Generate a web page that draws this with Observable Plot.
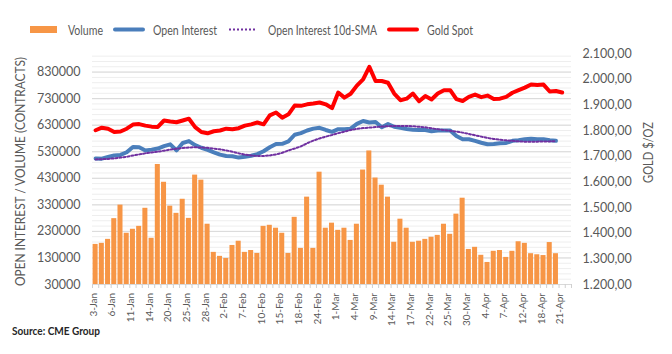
<!DOCTYPE html>
<html><head><meta charset="utf-8">
<script src="https://cdn.jsdelivr.net/npm/d3@7"></script>
<script src="https://cdn.jsdelivr.net/npm/@observablehq/plot@0.6"></script>
<style>
html,body{margin:0;padding:0;background:#fff;}
#wrap{position:relative;width:672px;height:354px;overflow:hidden;background:#fff;}
#wrap svg{position:absolute;left:0;top:0;}
</style></head>
<body><div id="wrap"></div>
<script>
// ---- data ----
const categories = ["3-Jan","4-Jan","5-Jan","6-Jan","7-Jan","10-Jan","11-Jan","12-Jan","13-Jan","14-Jan","18-Jan","19-Jan","20-Jan","21-Jan","24-Jan","25-Jan","26-Jan","27-Jan","28-Jan","31-Jan",
"1-Feb","2-Feb","3-Feb","4-Feb","7-Feb","8-Feb","9-Feb","10-Feb","11-Feb","14-Feb","15-Feb","16-Feb","17-Feb","18-Feb","22-Feb","23-Feb","24-Feb","25-Feb","28-Feb",
"1-Mar","2-Mar","3-Mar","4-Mar","7-Mar","8-Mar","9-Mar","10-Mar","11-Mar","14-Mar","15-Mar","16-Mar","17-Mar","18-Mar","21-Mar","22-Mar","23-Mar","24-Mar","25-Mar","28-Mar","29-Mar","30-Mar","31-Mar",
"1-Apr","4-Apr","5-Apr","6-Apr","7-Apr","8-Apr","11-Apr","12-Apr","13-Apr","14-Apr","18-Apr","19-Apr","20-Apr","21-Apr","22-Apr"];
const xTickLabels = ["3-Jan","6-Jan","11-Jan","14-Jan","20-Jan","25-Jan","28-Jan","2-Feb","7-Feb","10-Feb","15-Feb","18-Feb","24-Feb","1-Mar","4-Mar","9-Mar","14-Mar","17-Mar","22-Mar","25-Mar","30-Mar","4-Apr","7-Apr","12-Apr","18-Apr","21-Apr"];
const volume = [181000,185000,200000,278000,329000,223000,238000,249000,317000,204000,
482000,415000,325000,298000,351000,279000,442000,423000,257000,151000,
136000,128000,177000,193000,151000,158000,147000,249000,253000,242000,
223000,147000,283000,166000,359000,166000,453000,242000,261000,234000,
242000,196000,257000,461000,533000,431000,404000,359000,189000,276000,
242000,189000,193000,200000,208000,215000,257000,219000,295000,355000,
162000,170000,140000,113000,155000,158000,132000,155000,191000,185000,
146000,142000,139000,188000,146000];
const openInterest = [505000,504000,510000,516000,518000,528000,548000,547000,535000,538000,
542000,551000,558000,535000,563000,570000,555000,545000,537000,528000,
519000,514000,513000,508000,511000,515000,521000,532000,547000,559000,
560000,569000,594000,600000,610000,617000,620000,612000,605000,615000,
615000,617000,635000,646000,640000,642000,622000,634000,624000,620000,
616000,613000,612000,612000,607000,610000,610000,610000,589000,577000,
577000,571000,564000,558000,559000,562000,563000,571000,573000,577000,
579000,577000,577000,573000,571000];
const oiSMA = [501000,502000,503000,505000,508000,511000,516000,520000,524000,527000,
530000,534000,538000,541000,544000,546000,547000,546000,545000,542000,
539000,535000,530000,524000,519000,516000,514000,514000,516000,520000,
526000,535000,542000,550000,562000,572000,580000,587000,593000,600000,
606000,612000,616000,619000,621000,623000,625000,626000,627000,627000,
627000,626000,624000,622000,618000,615000,612000,609000,606000,602000,
597000,592000,587000,582000,578000,575000,573000,571000,569000,568000,
568000,568000,569000,569000,570000];
const goldSpot = [1801,1811,1807,1794,1796,1807,1823,1825,1819,1815,
1814,1839,1835,1832,1839,1846,1813,1794,1789,1797,
1800,1807,1805,1809,1819,1824,1831,1824,1859,1870,
1850,1863,1897,1896,1902,1905,1909,1902,1887,1948,
1928,1943,1975,1999,2048,1993,1993,1986,1944,1918,
1924,1944,1914,1934,1921,1944,1957,1957,1922,1915,
1931,1940,1930,1936,1923,1924,1931,1947,1957,1967,
1979,1977,1979,1952,1954,1948];
const leftTicks = [30000,130000,230000,330000,430000,530000,630000,730000,830000];
const leftMax = 900000;
const goldTicks = [1200,1300,1400,1500,1600,1700,1800,1900,2000,2100];

// ---- build ----
const yMin = leftTicks[0];
const goldToLeft = d3.scaleLinear().domain([goldTicks[0], goldTicks[goldTicks.length-1]]).range([yMin, leftMax]);
const volRows = volume.map((v,i)=>({date:categories[i], v}));
const oiRows = openInterest.map((v,i)=>({date:categories[i], v}));
const smaRows = oiSMA.map((v,i)=>({date:categories[i], v}));
const goldRows = goldSpot.map((g,i)=>({date:categories[i], v:goldToLeft(g)}));
const minorGrid = d3.range(yMin, leftMax, 20000);
const fmtGold = g => { const s = String(Math.round(g)); return s.slice(0,-3)+"."+s.slice(-3)+",00"; };

const W=672, H=354, mL=92, mR=101, mT=53, mB=70;
const bw = (W-mL-mR)/categories.length;
const frameH = H-mT-mB;
const font = "Lato, 'Open Sans', sans-serif";

const chart = Plot.plot({
  width: W, height: H,
  marginTop: mT, marginBottom: mB, marginLeft: mL, marginRight: mR,
  style: {fontFamily: font, fontSize: "12px", color: "#595959", background: "transparent", overflow: "visible"},
  x: {type: "band", domain: categories, padding: 0, round: false, axis: null},
  y: {domain: [yMin, leftMax], axis: null},
  marks: [
    Plot.ruleY(minorGrid, {stroke: "#eeeeee", strokeWidth: 1}),
    Plot.ruleY(leftTicks, {stroke: "#d9d9d9", strokeWidth: 1}),
    Plot.barY(volRows, {x: "date", y1: () => yMin, y2: "v", fill: "#f79646", insetLeft: 0.6, insetRight: 0.6}),
    Plot.line(oiRows, {x: "date", y: "v", stroke: "#4a7ebb", strokeWidth: 4, strokeLinejoin: "round", strokeLinecap: "round"}),
    Plot.line(smaRows, {x: "date", y: "v", stroke: "#7030a0", strokeWidth: 2, strokeDasharray: "2,2"}),
    Plot.line(goldRows, {x: "date", y: "v", stroke: "#ff0000", strokeWidth: 4, strokeLinejoin: "round", strokeLinecap: "round"}),
    Plot.ruleX(categories, {x: d => d, dx: -bw/2, insetTop: frameH, insetBottom: -4, stroke: "#d0d0d0"}),
    Plot.ruleX([categories[categories.length-1]], {x: d => d, dx: bw/2, insetTop: frameH, insetBottom: -4, stroke: "#d0d0d0"}),
    Plot.text(leftTicks, {y: d => d, text: d => String(d), frameAnchor: "left", dx: -12, textAnchor: "end", fontSize: 12.5, fill: "#595959"}),
    Plot.text(goldTicks, {y: d => goldToLeft(d), text: d => fmtGold(d), frameAnchor: "right", dx: 11, textAnchor: "start", fontSize: 12.5, fill: "#595959"}),
    Plot.text(xTickLabels, {x: d => d, text: d => d, frameAnchor: "bottom", rotate: -90, textAnchor: "end", dy: 8.5, dx: 1, fontSize: 10, fill: "#595959"})
  ]
});
document.getElementById("wrap").appendChild(chart);

// overlay: legend, axis titles, source
const ov = d3.select("#wrap").append("svg").attr("width", W).attr("height", H)
  .style("font-family", font).style("pointer-events","none");
const lg = ov.append("g").attr("fill", "#595959").style("font-size", "12.5px");
lg.append("rect").attr("x", 30).attr("y", 26).attr("width", 27).attr("height", 7).attr("fill", "#f79646");
lg.append("text").attr("x", 68).attr("y", 30).attr("dominant-baseline","central").attr("textLength", 35).attr("lengthAdjust","spacingAndGlyphs").text("Volume");
lg.append("line").attr("x1", 115).attr("x2", 143).attr("y1", 29.5).attr("y2", 29.5).attr("stroke", "#4a7ebb").attr("stroke-width", 4).attr("stroke-linecap","round");
lg.append("text").attr("x", 153).attr("y", 30).attr("dominant-baseline","central").attr("textLength", 64).attr("lengthAdjust","spacingAndGlyphs").text("Open Interest");
lg.append("line").attr("x1", 229).attr("x2", 256).attr("y1", 29.5).attr("y2", 29.5).attr("stroke", "#7030a0").attr("stroke-width", 2).attr("stroke-dasharray","2,2");
lg.append("text").attr("x", 268).attr("y", 30).attr("dominant-baseline","central").attr("textLength", 109).attr("lengthAdjust","spacingAndGlyphs").text("Open Interest 10d-SMA");
lg.append("line").attr("x1", 389).attr("x2", 417).attr("y1", 29.5).attr("y2", 29.5).attr("stroke", "#ff0000").attr("stroke-width", 4).attr("stroke-linecap","round");
lg.append("text").attr("x", 427).attr("y", 30).attr("dominant-baseline","central").attr("textLength", 46).attr("lengthAdjust","spacingAndGlyphs").text("Gold Spot");

ov.append("text").attr("transform", "translate(20,171.5) rotate(-90)").attr("text-anchor","middle").attr("dominant-baseline","central")
  .attr("fill","#595959").style("font-size","13px").attr("textLength", 229).attr("lengthAdjust","spacingAndGlyphs").text("OPEN INTEREST / VOLUME (CONTRACTS)");
ov.append("text").attr("transform", "translate(648,152.5) rotate(-90)").attr("text-anchor","middle").attr("dominant-baseline","central")
  .attr("fill","#595959").style("font-size","13px").attr("textLength", 61).attr("lengthAdjust","spacingAndGlyphs").text("GOLD $/OZ");
ov.append("text").attr("x", 12).attr("y", 330).attr("dominant-baseline","central")
  .attr("fill","#262626").style("font-size","11px").style("font-weight","bold").attr("textLength", 88).attr("lengthAdjust","spacingAndGlyphs").text("Source: CME Group");
</script>
</body></html>
